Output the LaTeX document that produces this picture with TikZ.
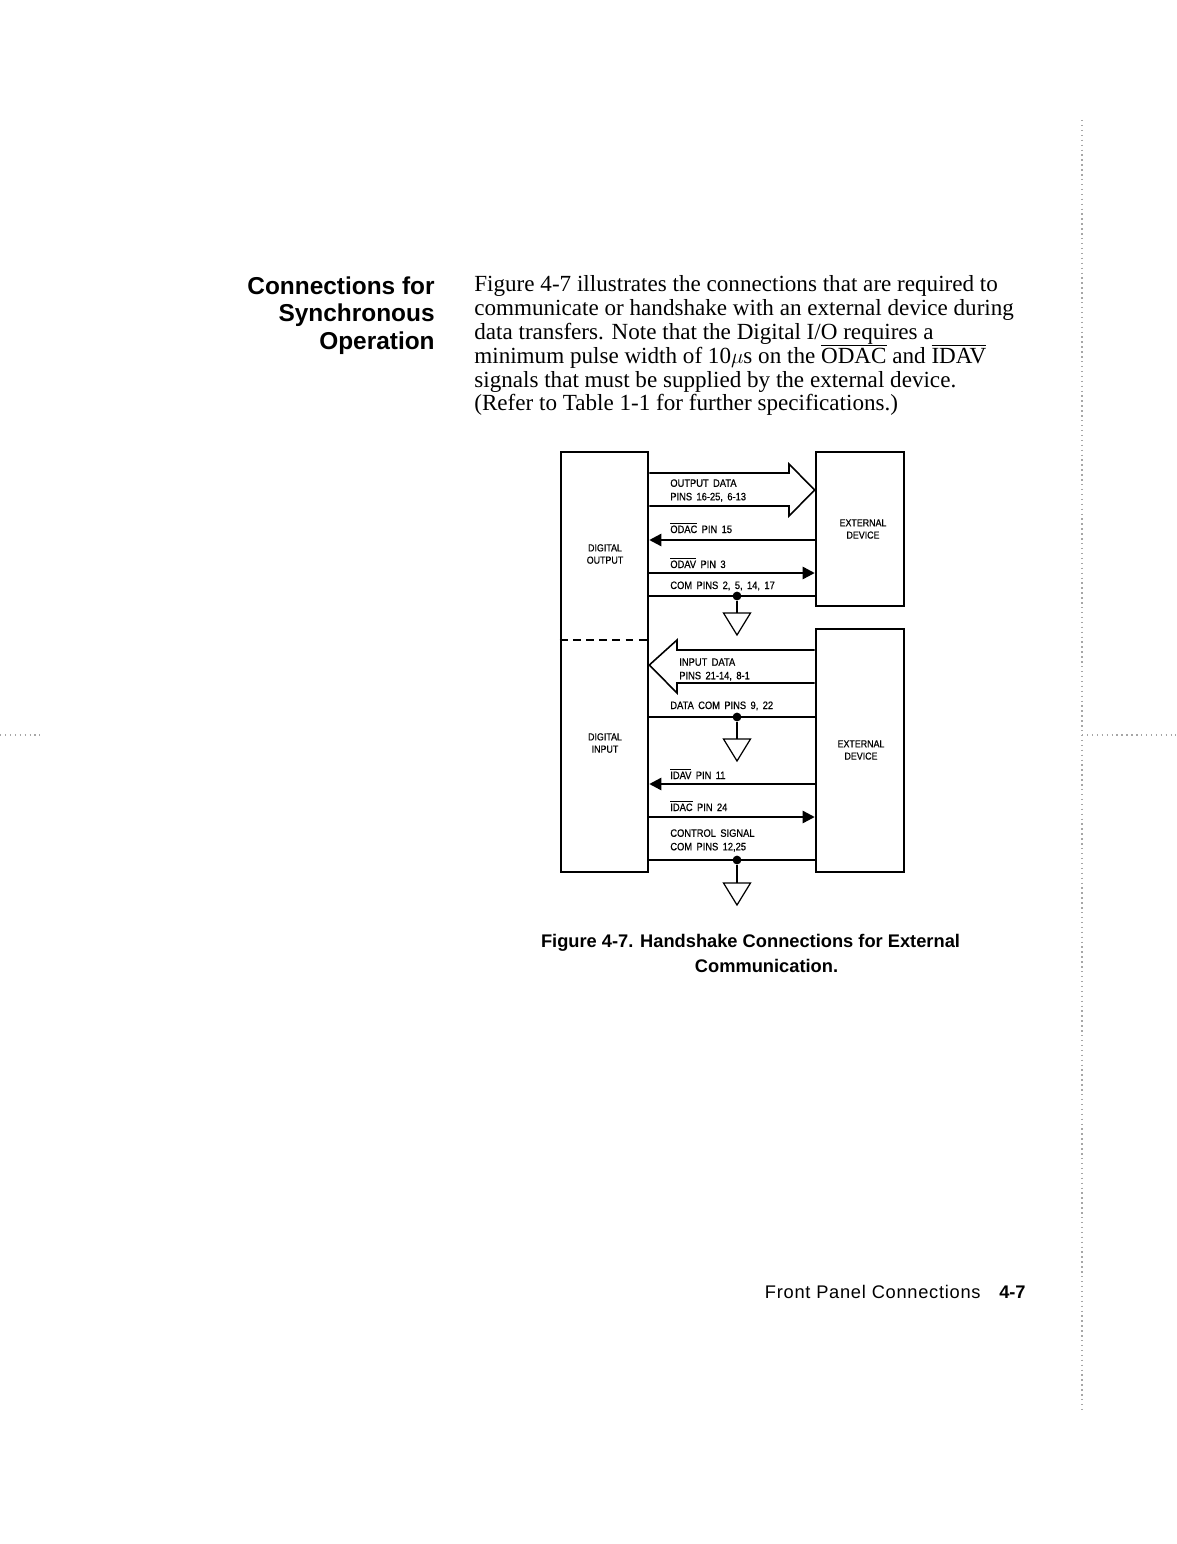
\documentclass[tikz,border=0pt]{standalone}
\usepackage{fontspec}
\usetikzlibrary{arrows.meta}
\setmainfont{Liberation Serif}
\setsansfont{Liberation Sans}
\newfontfamily\pinfont[FakeStretch=0.87,FakeBold=0.6,WordSpace=1.7]{Liberation Sans}
\newfontfamily\footfont[LetterSpace=4]{Liberation Sans}
\newcommand{\barred}[1]{$\overline{\hbox{#1}}$}
\tikzset{
    unitbox/.style={draw, line width=1.5pt, inner sep=0pt},
    pinlabel/.style={font=\pinfont\fontsize{6.1}{7.7}\selectfont, inner sep=0pt, align=left},
    boxlabel/.style={font=\pinfont\fontsize{5.8}{7}\selectfont, inner sep=0pt, align=center},
    wire/.style={line width=0.9pt},
    sigarrow/.style={wire, -{Triangle[length=6.8pt,width=7pt]}},
    gnddot/.style={circle, fill, inner sep=0pt, minimum size=5pt},
    heading/.style={font=\sffamily\bfseries\fontsize{13.9}{15.6}\selectfont, inner sep=0pt, align=right},
    caption/.style={font=\sffamily\bfseries\fontsize{10.4}{14.2}\selectfont, inner sep=0pt},
    speck/.style={gray!70, line width=0.6pt, dash pattern=on 0.8pt off 2pt}
}
\begin{document}
\begin{tikzpicture}[x=0.02cm, y=-0.02cm]
    \useasboundingbox (0,0) rectangle (1176,1544);

    % heading and text
    \node[heading, anchor=north east] (head) at (435,276.5) {Connections for\\Synchronous\\Operation};
    \node[anchor=north west, inner sep=0pt, align=left, font=\fontsize{13.15}{13.55}\selectfont] (body) at (474,275.5) {%
        Figure 4-7 illustrates the connections that are required to\\
        communicate or handshake with an external device during\\
        data transfers. Note that the Digital I/O requires a\\
        minimum pulse width of 10$\mu$s on the \barred{ODAC} and \barred{IDAV}\\
        signals that must be supplied by the external device.\\
        (Refer to Table 1-1 for further specifications.)};

    % boxes
    \node[unitbox, minimum width=87*0.02cm, minimum height=420*0.02cm] (dig) at (604.5,662) {};
    \node[unitbox, minimum width=88*0.02cm, minimum height=154*0.02cm] (exta) at (860,529) {};
    \node[unitbox, minimum width=88*0.02cm, minimum height=243*0.02cm] (extb) at (860,750.5) {};
    \node[boxlabel] (digout) at (605,554) {DIGITAL\\OUTPUT};
    \node[boxlabel] (digin) at (605,743) {DIGITAL\\INPUT};
    \node[boxlabel] (extalabel) at (863,529) {EXTERNAL\\DEVICE};
    \node[boxlabel] (extblabel) at (861,750) {EXTERNAL\\DEVICE};
    \draw[line width=0.8pt, dash pattern=on 4.5pt off 3pt] (dig.west |- 0,640) -- (dig.east |- 0,640);

    % bus arrows
    \draw[wire] (dig.east |- 0,473) -- (789,473) -- (789,464) -- (exta.west |- 0,490) -- (789,516) -- (789,506) -- (dig.east |- 0,506);
    \draw[wire] (extb.west |- 0,650) -- (677,650) -- (677,640) -- (dig.east |- 0,665) -- (677,693) -- (677,683) -- (extb.west |- 0,683);

    % signals
    \draw[sigarrow] (exta.west |- 0,540) -- (dig.east |- 0,540);
    \draw[sigarrow] (dig.east |- 0,573) -- (exta.west |- 0,573);
    \draw[sigarrow] (extb.west |- 0,784) -- (dig.east |- 0,784);
    \draw[sigarrow] (dig.east |- 0,817) -- (extb.west |- 0,817);

    % common lines and grounds
    \foreach \name/\yy/\ytop in {coma/596/613, comb/717/739, comc/860/883} {
        \draw[wire] (dig.east |- 0,\yy) -- (exta.west |- 0,\yy);
        \node[gnddot] (\name) at (737,\yy) {};
        \coordinate (\name top) at (737,\ytop);
        \draw[wire] (\name) -- (\name top);
        \draw[line width=0.7pt] (723.5,\ytop) -- (750.5,\ytop) -- (737,\ytop+22) -- cycle;
    }

    % pin labels
    \node[pinlabel, anchor=west] (outdata) at (670,490.5) {OUTPUT DATA\\PINS 16-25, 6-13};
    \node[pinlabel, anchor=base west] (odac) at (670,533) {\barred{ODAC} PIN 15};
    \node[pinlabel, anchor=base west] (odav) at (670,568) {\barred{ODAV} PIN 3};
    \node[pinlabel, anchor=base west] (compins) at (670,589) {COM PINS 2, 5, 14, 17};
    \node[pinlabel, anchor=west] (indata) at (679,669.5) {INPUT DATA\\PINS 21-14, 8-1};
    \node[pinlabel, anchor=base west] (datacom) at (670,709) {DATA COM PINS 9, 22};
    \node[pinlabel, anchor=base west] (idav) at (670,779) {\barred{IDAV} PIN 11};
    \node[pinlabel, anchor=base west] (idac) at (670,811) {\barred{IDAC} PIN 24};
    \node[pinlabel, anchor=west] (ctrl) at (670,840.5) {CONTROL SIGNAL\\COM PINS 12,25};

    % caption and footer
    \node[caption] (figcap) at (750.5,943) {Figure 4-7. Handshake Connections for External};
    \node[caption] (figcapb) at (766.5,966) {Communication.};
    \node[anchor=base east, inner sep=0pt, font=\footfont\fontsize{10.4}{12}\selectfont] (foot) at (981,1298) {Front Panel Connections};
    \node[anchor=base east, inner sep=0pt, font=\sffamily\bfseries\fontsize{10.4}{12}\selectfont] (pageno) at (1026,1298) {4-7};

    % margin marks
    \draw[speck] (1082,120) -- (1082,1410);
    \draw[speck] (1082,735) -- (1176,735);
    \draw[speck] (0,735) -- (40,735);
\end{tikzpicture}
\end{document}
